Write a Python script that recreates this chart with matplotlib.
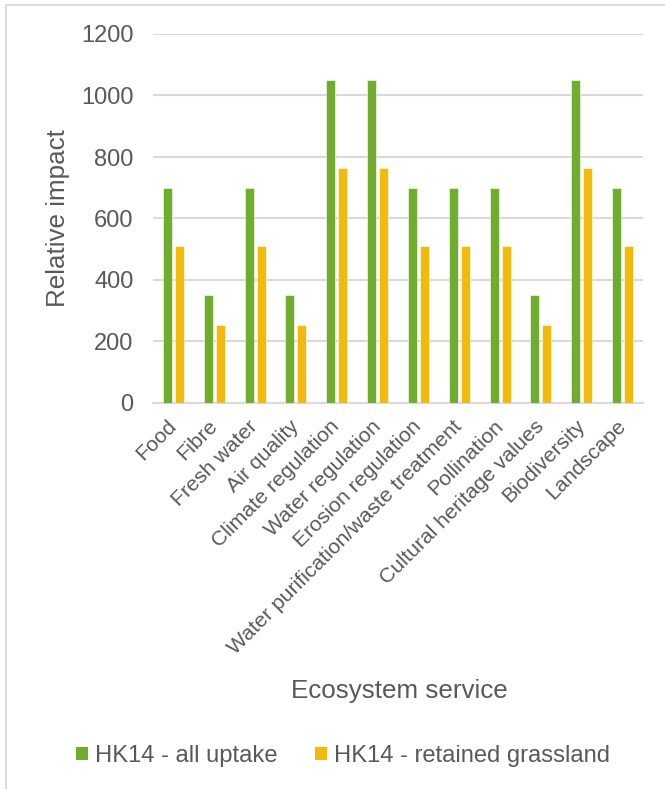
import matplotlib
matplotlib.use("Agg")
import matplotlib.pyplot as plt
import numpy as np
from matplotlib.patches import Rectangle, Patch
from matplotlib.transforms import ScaledTranslation

categories = ["Food", "Fibre", "Fresh water", "Air quality", "Climate regulation",
              "Water regulation", "Erosion regulation", "Water purification/waste treatment",
              "Pollination", "Cultural heritage values", "Biodiversity", "Landscape"]
all_uptake = [700, 350, 700, 350, 1050, 1050, 700, 700, 700, 350, 1050, 700]
retained_grassland = [509, 254, 509, 254, 763, 763, 509, 509, 509, 254, 763, 509]
series_names = ["HK14 - all uptake", "HK14 - retained grassland"]
yticks = [0, 200, 400, 600, 800, 1000, 1200]

GREEN = "#70AD2F"
YELLOW = "#F2BA0D"
TXT = "#595959"
GRID = "#D9D9D9"

plt.rcParams['font.family'] = ['Liberation Sans', 'DejaVu Sans']

W, H = 665, 789
fig = plt.figure(figsize=(W / 100, H / 100), dpi=100)

# chart frame
fig.patches.append(Rectangle((6 / W, -0.1), 2.0, 1 - 5 / H + 0.1, transform=fig.transFigure,
                             fill=False, edgecolor=GRID, linewidth=1.3))

left, right = 153 / W, 643 / W
bottom, top = 1 - 403 / H, 1 - 34 / H
ax = fig.add_axes([left, bottom, right - left, top - bottom])

x = np.arange(len(categories))
bw = 0.22
off = 0.147
ax.bar(x - off, all_uptake, width=bw, color=GREEN, edgecolor="white", linewidth=0.4, zorder=3)
ax.bar(x + off, retained_grassland, width=bw, color=YELLOW, edgecolor="white", linewidth=0.4, zorder=3)

ax.set_xlim(-0.5, len(categories) - 0.5)
ax.set_ylim(0, 1200)
ax.set_yticks(yticks)
ax.yaxis.grid(True, color=GRID, linewidth=1.5, zorder=0)
ax.set_axisbelow(True)
for s in ["top", "right", "left"]:
    ax.spines[s].set_visible(False)
ax.spines["bottom"].set_color(GRID)
ax.spines["bottom"].set_linewidth(1.5)

ax.tick_params(axis="y", length=0, pad=14, labelsize=17, labelcolor=TXT)
ax.tick_params(axis="x", length=0, pad=8, labelsize=15.3, labelcolor=TXT)
ax.set_xticks(x)
ax.set_xticklabels(categories, rotation=45, ha="right", va="center", rotation_mode="anchor")
for lbl in ax.get_xticklabels():
    lbl.set_transform(lbl.get_transform() + ScaledTranslation(0 / 100, -9 / 100, fig.dpi_scale_trans))

ax.set_ylabel("Relative impact", fontsize=18.7, color=TXT)
ax.yaxis.set_label_coords(-(153 - 70) / 490, 0.5)

fig.text(399 / W, 1 - 698 / H, "Ecosystem service", fontsize=18.7, color=TXT, ha="center", va="baseline")

handles = [Patch(facecolor=GREEN), Patch(facecolor=YELLOW)]
leg = fig.legend(handles, series_names, loc="center", bbox_to_anchor=(343 / W, 1 - 756 / H),
                 ncol=2, frameon=False, fontsize=17.1, handlelength=0.5, handleheight=0.5,
                 handletextpad=0.3, columnspacing=1.6, labelcolor=TXT)

fig.savefig("out.png", dpi=100)
